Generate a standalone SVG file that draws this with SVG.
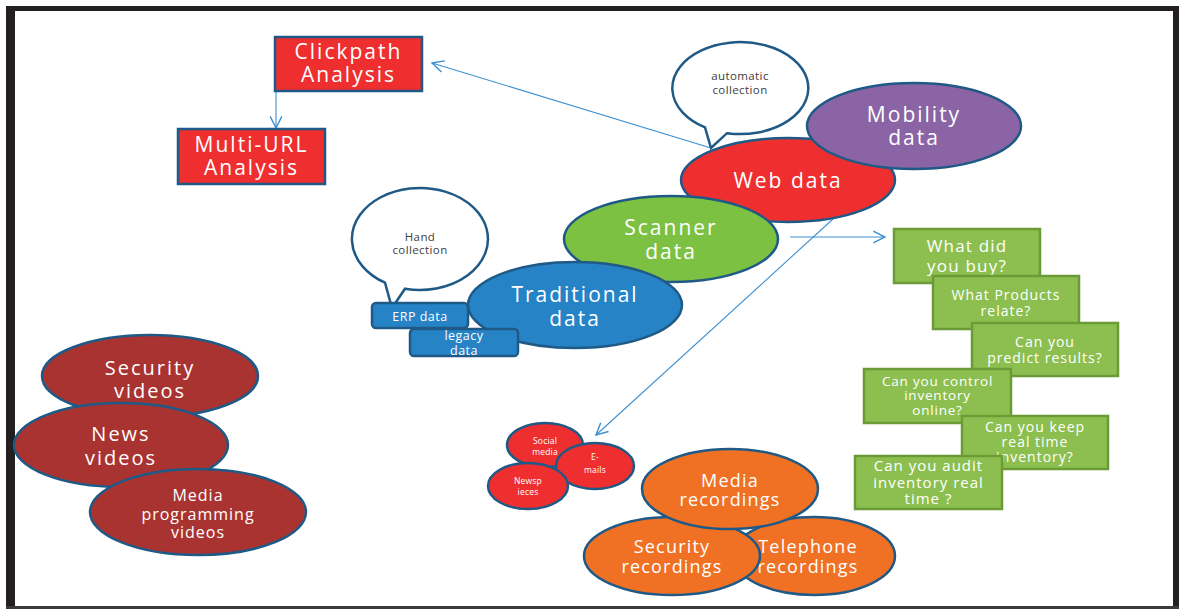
<svg xmlns="http://www.w3.org/2000/svg" width="1179" height="610" viewBox="0 0 1179 610">
<defs>
<marker id="ah" markerUnits="userSpaceOnUse" markerWidth="14" markerHeight="14" viewBox="0 0 12 12" refX="11" refY="6" orient="auto">
<path d="M1,1 L11,6 L1,11" fill="none" stroke="#3B8FD1" stroke-width="1.2"/>
</marker>
<style>
.sh{stroke:#1F5A87;stroke-width:2.5}
.red{fill:#EE2E2F}.dred{fill:#A93331}.org{fill:#F07124}.grn{fill:#7DC142}.blu{fill:#2683C6}.pur{fill:#8A64A5}
.bub{fill:#FFFFFF;stroke:#1F5A87;stroke-width:2.5}
.box{fill:#8CBF4F;stroke:#6B9B37;stroke-width:2.5}
.t{font-family:"Open Sans","Noto Sans",sans-serif;fill:#FFFFFF;text-anchor:middle}
.big{font-size:21px;letter-spacing:2px}
.mid{font-size:18px;letter-spacing:1.2px}
.q{font-size:14px;letter-spacing:1px}
.sm{font-size:12.5px;letter-spacing:0.5px}
.xs{font-size:8.5px;letter-spacing:0.2px}
.dk{fill:#404040;font-size:11.5px;letter-spacing:0.4px}
.ln{fill:none;stroke:#3B8FD1;stroke-width:1.1}
</style>
</defs>
<rect width="1179" height="610" fill="#FFFFFF"/>
<g id="frame" fill="#231F20">
<rect x="6" y="6" width="1173" height="5"/>
<rect x="6" y="6" width="9" height="602"/>
<rect x="1173" y="6" width="6" height="602"/>
<rect x="6" y="606" width="1173" height="3" fill="#3A3A3A"/>
</g>
<g id="connectors">
<line class="ln" x1="711" y1="148" x2="432" y2="63" marker-end="url(#ah)"/>
<line class="ln" x1="276" y1="91" x2="276" y2="128" marker-end="url(#ah)"/>
<line class="ln" x1="790" y1="237" x2="885" y2="237" marker-end="url(#ah)"/>
<line class="ln" x1="833" y1="219" x2="596" y2="435" marker-end="url(#ah)"/>
</g>
<g id="clickpath">
<rect class="sh red" x="275" y="37" width="147" height="54"/>
<text class="t big" x="348.5"><tspan x="348.5" y="59">Clickpath</tspan><tspan x="348.5" y="82">Analysis</tspan></text>
</g>
<g id="multiurl">
<rect class="sh red" x="178" y="129" width="147" height="55"/>
<text class="t big" x="251.5"><tspan x="251.5" y="152">Multi-URL</tspan><tspan x="251.5" y="175">Analysis</tspan></text>
</g>
<g id="automatic">
<path class="bub" d="M705,127.4 A68 46 0 1 1 727,133.2 L711,148 Z"/>
<text class="t dk"><tspan x="740" y="80">automatic</tspan><tspan x="740" y="94">collection</tspan></text>
</g>
<g id="webdata">
<ellipse class="sh red" cx="788" cy="180" rx="107" ry="42"/>
<text class="t big" x="788" y="188">Web data</text>
</g>
<g id="mobility">
<ellipse class="sh pur" cx="914" cy="126" rx="107" ry="43"/>
<text class="t big"><tspan x="914" y="122">Mobility</tspan><tspan x="914" y="145">data</tspan></text>
</g>
<g id="scanner">
<ellipse class="sh grn" cx="671" cy="239" rx="107" ry="43"/>
<text class="t big"><tspan x="671" y="235">Scanner</tspan><tspan x="671" y="259">data</tspan></text>
</g>
<g id="handcollection">
<path class="bub" d="M385,282.7 A68 51 0 1 1 405,288.7 L392,308 Z"/>
<text class="t dk"><tspan x="420" y="241">Hand</tspan><tspan x="420" y="254">collection</tspan></text>
</g>
<g id="traditional">
<ellipse class="sh blu" cx="575" cy="305" rx="107" ry="43"/>
<text class="t big"><tspan x="575" y="302">Traditional</tspan><tspan x="575" y="326">data</tspan></text>
</g>
<g id="erp">
<rect class="sh blu" x="372" y="303" width="96" height="25" rx="4"/>
<text class="t sm" x="420" y="321">ERP data</text>
</g>
<g id="legacy">
<rect class="sh blu" x="410" y="329" width="108" height="27" rx="4"/>
<text class="t sm"><tspan x="464" y="340">legacy</tspan><tspan x="464" y="355">data</tspan></text>
</g>
<g id="q1">
<rect class="box" x="894" y="229" width="146" height="54"/>
<text class="t q" style="font-size:17px;letter-spacing:1.2px"><tspan x="967" y="252">What did</tspan><tspan x="967" y="272">you buy?</tspan></text>
</g>
<g id="q2">
<rect class="box" x="933" y="276" width="146" height="53"/>
<text class="t q"><tspan x="1006" y="300">What Products</tspan><tspan x="1006" y="316">relate?</tspan></text>
</g>
<g id="q3">
<rect class="box" x="972" y="323" width="146" height="53"/>
<text class="t q"><tspan x="1045" y="347">Can you</tspan><tspan x="1045" y="363">predict results?</tspan></text>
</g>
<g id="q4">
<rect class="box" x="864" y="369" width="147" height="54"/>
<text class="t q" style="font-size:13.5px;letter-spacing:0.8px"><tspan x="937.5" y="386">Can you control</tspan><tspan x="937.5" y="400">inventory</tspan><tspan x="937.5" y="415">online?</tspan></text>
</g>
<g id="q5">
<rect class="box" x="962" y="416" width="146" height="53"/>
<text class="t q"><tspan x="1035" y="432">Can you keep</tspan><tspan x="1035" y="447">real time</tspan><tspan x="1035" y="462">inventory?</tspan></text>
</g>
<g id="q6">
<rect class="box" x="855" y="456" width="147" height="53"/>
<text class="t q" style="font-size:15px"><tspan x="928.5" y="471">Can you audit</tspan><tspan x="928.5" y="488">inventory real</tspan><tspan x="928.5" y="504">time ?</tspan></text>
</g>
<g id="social">
<ellipse class="sh red" cx="545" cy="445" rx="38" ry="22"/>
<text class="t xs"><tspan x="545" y="444">Social</tspan><tspan x="545" y="455">media</tspan></text>
</g>
<g id="emails">
<ellipse class="sh red" cx="595" cy="466" rx="39" ry="23"/>
<text class="t xs"><tspan x="595" y="460">E-</tspan><tspan x="595" y="473">mails</tspan></text>
</g>
<g id="newspieces">
<ellipse class="sh red" cx="528" cy="486" rx="40" ry="23"/>
<text class="t xs"><tspan x="528" y="484">Newsp</tspan><tspan x="528" y="495">ieces</tspan></text>
</g>
<g id="telephone">
<ellipse class="sh org" cx="814" cy="556" rx="81" ry="39"/>
<text class="t mid"><tspan x="808" y="553">Telephone</tspan><tspan x="808" y="573">recordings</tspan></text>
</g>
<g id="securityrec">
<ellipse class="sh org" cx="672" cy="556" rx="88" ry="39"/>
<text class="t mid"><tspan x="672" y="553">Security</tspan><tspan x="672" y="573">recordings</tspan></text>
</g>
<g id="mediarec">
<ellipse class="sh org" cx="730" cy="489" rx="88" ry="40"/>
<text class="t mid"><tspan x="730" y="487">Media</tspan><tspan x="730" y="506">recordings</tspan></text>
</g>
<g id="securityvid">
<ellipse class="sh dred" cx="150" cy="376" rx="108" ry="41"/>
<text class="t big" style="font-size:20px"><tspan x="150" y="375">Security</tspan><tspan x="150" y="398">videos</tspan></text>
</g>
<g id="newsvid">
<ellipse class="sh dred" cx="121" cy="445" rx="107" ry="42"/>
<text class="t big" style="font-size:20px"><tspan x="121" y="441">News</tspan><tspan x="121" y="465">videos</tspan></text>
</g>
<g id="mediaprog">
<ellipse class="sh dred" cx="198" cy="512" rx="108" ry="43"/>
<text class="t mid" style="font-size:16px;letter-spacing:1px"><tspan x="198" y="501">Media</tspan><tspan x="198" y="520">programming</tspan><tspan x="198" y="538">videos</tspan></text>
</g>
</svg>
